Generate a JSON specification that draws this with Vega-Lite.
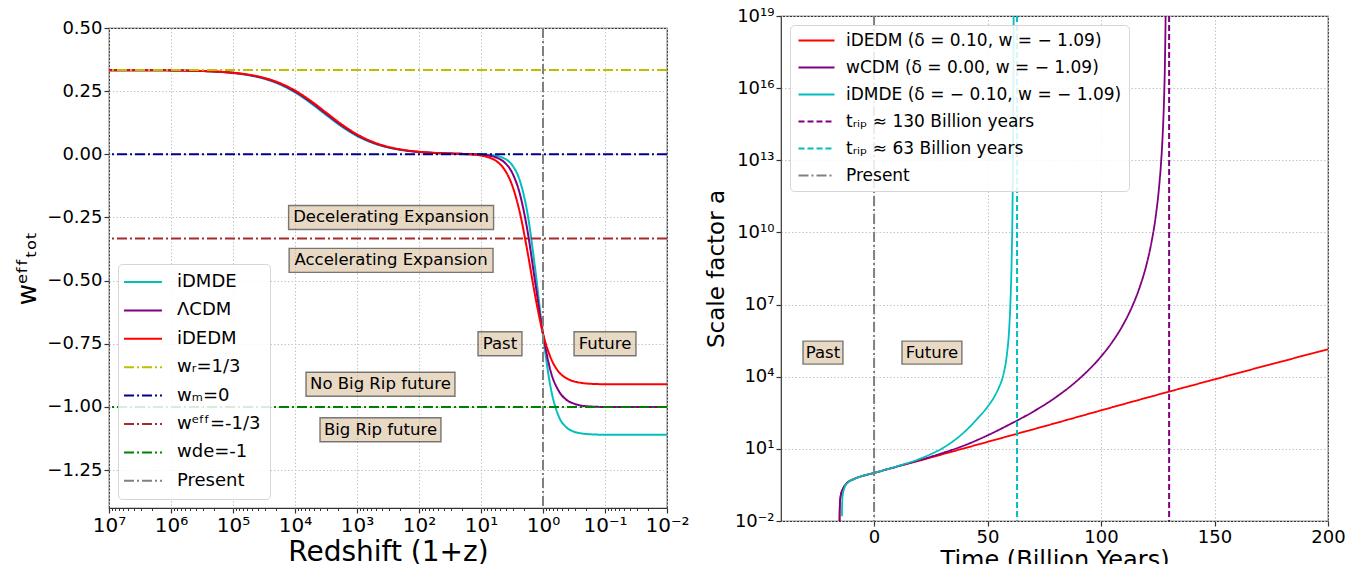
{
  "$schema": "https://vega.github.io/schema/vega-lite/v6.json",
  "background": "white",
  "padding": {"left": 14, "top": 6, "right": 0, "bottom": 0},
  "config": {
    "font": "DejaVu Sans",
    "view": {"stroke": "#333333", "strokeWidth": 1.2},
    "axis": {
      "domain": false, "tickColor": "#333333", "tickSize": 5, "tickWidth": 1.2,
      "labelColor": "#000000", "titleColor": "#000000", "titleFontWeight": "normal",
      "grid": true, "gridColor": "#c4c4c4", "gridDash": [1.5, 2], "gridWidth": 1,
      "labelOverlap": false, "labelBound": false, "labelFlush": false,
      "labelFont": "DejaVu Sans", "titleFont": "DejaVu Sans"
    },
    "legend": {"labelFont": "DejaVu Sans", "labelColor": "#000000", "labelLimit": 600}
  },
  "datasets": {
    "left_curves": [
      {"series": "iDMDE", "z1": 10000000, "w": 0.3332}, {"series": "iDMDE", "z1": 3162278, "w": 0.333}, {"series": "iDMDE", "z1": 1000000, "w": 0.3321}, {"series": "iDMDE", "z1": 316228, "w": 0.3296}, {"series": "iDMDE", "z1": 177828, "w": 0.3267}, {"series": "iDMDE", "z1": 100000, "w": 0.3218}, {"series": "iDMDE", "z1": 56234, "w": 0.3133}, {"series": "iDMDE", "z1": 31623, "w": 0.2993}, {"series": "iDMDE", "z1": 17783, "w": 0.2772}, {"series": "iDMDE", "z1": 10000, "w": 0.2451}, {"series": "iDMDE", "z1": 5623, "w": 0.2033}, {"series": "iDMDE", "z1": 3162, "w": 0.1559}, {"series": "iDMDE", "z1": 1778, "w": 0.1102}, {"series": "iDMDE", "z1": 1000, "w": 0.0725}, {"series": "iDMDE", "z1": 562.3, "w": 0.0451}, {"series": "iDMDE", "z1": 316.2, "w": 0.0269}, {"series": "iDMDE", "z1": 177.8, "w": 0.0157}, {"series": "iDMDE", "z1": 100, "w": 0.009}, {"series": "iDMDE", "z1": 56.23, "w": 0.0051}, {"series": "iDMDE", "z1": 31.62, "w": 0.0029}, {"series": "iDMDE", "z1": 17.78, "w": 0.0015}, {"series": "iDMDE", "z1": 10, "w": 0.0}, {"series": "iDMDE", "z1": 7.499, "w": -0.0018}, {"series": "iDMDE", "z1": 5.623, "w": -0.0059}, {"series": "iDMDE", "z1": 4.217, "w": -0.0161}, {"series": "iDMDE", "z1": 3.162, "w": -0.0417}, {"series": "iDMDE", "z1": 2.371, "w": -0.103}, {"series": "iDMDE", "z1": 1.778, "w": -0.234}, {"series": "iDMDE", "z1": 1.334, "w": -0.456}, {"series": "iDMDE", "z1": 1, "w": -0.716}, {"series": "iDMDE", "z1": 0.7499, "w": -0.925}, {"series": "iDMDE", "z1": 0.5623, "w": -1.035}, {"series": "iDMDE", "z1": 0.4217, "w": -1.08}, {"series": "iDMDE", "z1": 0.3162, "w": -1.098}, {"series": "iDMDE", "z1": 0.2371, "w": -1.105}, {"series": "iDMDE", "z1": 0.1778, "w": -1.108}, {"series": "iDMDE", "z1": 0.1, "w": -1.11}, {"series": "iDMDE", "z1": 0.05623, "w": -1.11}, {"series": "iDMDE", "z1": 0.03162, "w": -1.11}, {"series": "iDMDE", "z1": 0.01, "w": -1.11},
      {"series": "ΛCDM", "z1": 10000000, "w": 0.3332}, {"series": "ΛCDM", "z1": 3162278, "w": 0.333}, {"series": "ΛCDM", "z1": 1000000, "w": 0.3322}, {"series": "ΛCDM", "z1": 316228, "w": 0.3298}, {"series": "ΛCDM", "z1": 177828, "w": 0.3271}, {"series": "ΛCDM", "z1": 100000, "w": 0.3224}, {"series": "ΛCDM", "z1": 56234, "w": 0.3143}, {"series": "ΛCDM", "z1": 31623, "w": 0.301}, {"series": "ΛCDM", "z1": 17783, "w": 0.2798}, {"series": "ΛCDM", "z1": 10000, "w": 0.2488}, {"series": "ΛCDM", "z1": 5623, "w": 0.2077}, {"series": "ΛCDM", "z1": 3162, "w": 0.1606}, {"series": "ΛCDM", "z1": 1778, "w": 0.1145}, {"series": "ΛCDM", "z1": 1000, "w": 0.0757}, {"series": "ΛCDM", "z1": 562.3, "w": 0.0473}, {"series": "ΛCDM", "z1": 316.2, "w": 0.0284}, {"series": "ΛCDM", "z1": 177.8, "w": 0.0166}, {"series": "ΛCDM", "z1": 100, "w": 0.0095}, {"series": "ΛCDM", "z1": 56.23, "w": 0.0054}, {"series": "ΛCDM", "z1": 31.62, "w": 0.0031}, {"series": "ΛCDM", "z1": 17.78, "w": 0.0013}, {"series": "ΛCDM", "z1": 10, "w": -0.0015}, {"series": "ΛCDM", "z1": 7.499, "w": -0.005}, {"series": "ΛCDM", "z1": 5.623, "w": -0.013}, {"series": "ΛCDM", "z1": 4.217, "w": -0.0312}, {"series": "ΛCDM", "z1": 3.162, "w": -0.0716}, {"series": "ΛCDM", "z1": 2.371, "w": -0.155}, {"series": "ΛCDM", "z1": 1.778, "w": -0.303}, {"series": "ΛCDM", "z1": 1.334, "w": -0.508}, {"series": "ΛCDM", "z1": 1, "w": -0.71}, {"series": "ΛCDM", "z1": 0.7499, "w": -0.86}, {"series": "ΛCDM", "z1": 0.5623, "w": -0.935}, {"series": "ΛCDM", "z1": 0.4217, "w": -0.971}, {"series": "ΛCDM", "z1": 0.3162, "w": -0.987}, {"series": "ΛCDM", "z1": 0.2371, "w": -0.995}, {"series": "ΛCDM", "z1": 0.1778, "w": -0.998}, {"series": "ΛCDM", "z1": 0.1, "w": -1.0}, {"series": "ΛCDM", "z1": 0.05623, "w": -1.0}, {"series": "ΛCDM", "z1": 0.03162, "w": -1.0}, {"series": "ΛCDM", "z1": 0.01, "w": -1.0},
      {"series": "iDEDM", "z1": 10000000, "w": 0.3332}, {"series": "iDEDM", "z1": 3162278, "w": 0.333}, {"series": "iDEDM", "z1": 1000000, "w": 0.3323}, {"series": "iDEDM", "z1": 316228, "w": 0.33}, {"series": "iDEDM", "z1": 177828, "w": 0.3274}, {"series": "iDEDM", "z1": 100000, "w": 0.323}, {"series": "iDEDM", "z1": 56234, "w": 0.3154}, {"series": "iDEDM", "z1": 31623, "w": 0.3027}, {"series": "iDEDM", "z1": 17783, "w": 0.2825}, {"series": "iDEDM", "z1": 10000, "w": 0.2525}, {"series": "iDEDM", "z1": 5623, "w": 0.2125}, {"series": "iDEDM", "z1": 3162, "w": 0.1657}, {"series": "iDEDM", "z1": 1778, "w": 0.1191}, {"series": "iDEDM", "z1": 1000, "w": 0.0794}, {"series": "iDEDM", "z1": 562.3, "w": 0.0498}, {"series": "iDEDM", "z1": 316.2, "w": 0.03}, {"series": "iDEDM", "z1": 177.8, "w": 0.0176}, {"series": "iDEDM", "z1": 100, "w": 0.0101}, {"series": "iDEDM", "z1": 56.23, "w": 0.0058}, {"series": "iDEDM", "z1": 31.62, "w": 0.0033}, {"series": "iDEDM", "z1": 17.78, "w": 0.0006}, {"series": "iDEDM", "z1": 10, "w": -0.0049}, {"series": "iDEDM", "z1": 7.499, "w": -0.0122}, {"series": "iDEDM", "z1": 5.623, "w": -0.0274}, {"series": "iDEDM", "z1": 4.217, "w": -0.0589}, {"series": "iDEDM", "z1": 3.162, "w": -0.121}, {"series": "iDEDM", "z1": 2.371, "w": -0.229}, {"series": "iDEDM", "z1": 1.778, "w": -0.386}, {"series": "iDEDM", "z1": 1.334, "w": -0.562}, {"series": "iDEDM", "z1": 1, "w": -0.71}, {"series": "iDEDM", "z1": 0.7499, "w": -0.806}, {"series": "iDEDM", "z1": 0.5623, "w": -0.86}, {"series": "iDEDM", "z1": 0.4217, "w": -0.886}, {"series": "iDEDM", "z1": 0.3162, "w": -0.899}, {"series": "iDEDM", "z1": 0.2371, "w": -0.905}, {"series": "iDEDM", "z1": 0.1778, "w": -0.908}, {"series": "iDEDM", "z1": 0.1, "w": -0.91}, {"series": "iDEDM", "z1": 0.05623, "w": -0.91}, {"series": "iDEDM", "z1": 0.03162, "w": -0.91}, {"series": "iDEDM", "z1": 0.01, "w": -0.91}
    ],
    "left_hlines": [
      {"series": "wᵣ=1/3", "w": 0.3333},
      {"series": "wₘ=0", "w": 0},
      {"series": "wᵉᶠᶠ=-1/3", "w": -0.3333},
      {"series": "wde=-1", "w": -1}
    ],
    "left_present": [{"series": "Present", "z1": 1}],
    "left_annot": [
      {"label": "Decelerating Expansion", "z1": 282, "w": -0.25},
      {"label": "Accelerating Expansion", "z1": 282, "w": -0.42},
      {"label": "Past", "z1": 4.94, "w": -0.75},
      {"label": "Future", "z1": 0.1, "w": -0.75},
      {"label": "No Big Rip future", "z1": 418, "w": -0.91},
      {"label": "Big Rip future", "z1": 418, "w": -1.09}
    ],
    "right_curves": [
      {"model": "iDEDM (δ = 0.10, w = − 1.09)", "t": -15.2, "log_a": -2.0}, {"model": "iDEDM (δ = 0.10, w = − 1.09)", "t": -15.15, "log_a": -1.62}, {"model": "iDEDM (δ = 0.10, w = − 1.09)", "t": -15.0, "log_a": -1.22}, {"model": "iDEDM (δ = 0.10, w = − 1.09)", "t": -14.8, "log_a": -1.02}, {"model": "iDEDM (δ = 0.10, w = − 1.09)", "t": -14.5, "log_a": -0.86}, {"model": "iDEDM (δ = 0.10, w = − 1.09)", "t": -14.0, "log_a": -0.72}, {"model": "iDEDM (δ = 0.10, w = − 1.09)", "t": -13.5, "log_a": -0.62}, {"model": "iDEDM (δ = 0.10, w = − 1.09)", "t": -12.5, "log_a": -0.48}, {"model": "iDEDM (δ = 0.10, w = − 1.09)", "t": -11, "log_a": -0.35}, {"model": "iDEDM (δ = 0.10, w = − 1.09)", "t": -9, "log_a": -0.26}, {"model": "iDEDM (δ = 0.10, w = − 1.09)", "t": -6, "log_a": -0.15}, {"model": "iDEDM (δ = 0.10, w = − 1.09)", "t": -3, "log_a": -0.075}, {"model": "iDEDM (δ = 0.10, w = − 1.09)", "t": 0, "log_a": 0}, {"model": "iDEDM (δ = 0.10, w = − 1.09)", "t": 10, "log_a": 0.26}, {"model": "iDEDM (δ = 0.10, w = − 1.09)", "t": 20, "log_a": 0.51}, {"model": "iDEDM (δ = 0.10, w = − 1.09)", "t": 30, "log_a": 0.77}, {"model": "iDEDM (δ = 0.10, w = − 1.09)", "t": 40, "log_a": 1.03}, {"model": "iDEDM (δ = 0.10, w = − 1.09)", "t": 50, "log_a": 1.29}, {"model": "iDEDM (δ = 0.10, w = − 1.09)", "t": 60, "log_a": 1.55}, {"model": "iDEDM (δ = 0.10, w = − 1.09)", "t": 80, "log_a": 2.07}, {"model": "iDEDM (δ = 0.10, w = − 1.09)", "t": 100, "log_a": 2.6}, {"model": "iDEDM (δ = 0.10, w = − 1.09)", "t": 130, "log_a": 3.38}, {"model": "iDEDM (δ = 0.10, w = − 1.09)", "t": 150, "log_a": 3.89}, {"model": "iDEDM (δ = 0.10, w = − 1.09)", "t": 175, "log_a": 4.52}, {"model": "iDEDM (δ = 0.10, w = − 1.09)", "t": 200, "log_a": 5.14},
      {"model": "wCDM (δ = 0.00, w = − 1.09)", "t": -15.2, "log_a": -2.0}, {"model": "wCDM (δ = 0.00, w = − 1.09)", "t": -15.15, "log_a": -1.62}, {"model": "wCDM (δ = 0.00, w = − 1.09)", "t": -15.0, "log_a": -1.22}, {"model": "wCDM (δ = 0.00, w = − 1.09)", "t": -14.8, "log_a": -1.02}, {"model": "wCDM (δ = 0.00, w = − 1.09)", "t": -14.5, "log_a": -0.86}, {"model": "wCDM (δ = 0.00, w = − 1.09)", "t": -14.0, "log_a": -0.72}, {"model": "wCDM (δ = 0.00, w = − 1.09)", "t": -13.5, "log_a": -0.62}, {"model": "wCDM (δ = 0.00, w = − 1.09)", "t": -12.5, "log_a": -0.48}, {"model": "wCDM (δ = 0.00, w = − 1.09)", "t": -11, "log_a": -0.35}, {"model": "wCDM (δ = 0.00, w = − 1.09)", "t": -9, "log_a": -0.26}, {"model": "wCDM (δ = 0.00, w = − 1.09)", "t": -6, "log_a": -0.15}, {"model": "wCDM (δ = 0.00, w = − 1.09)", "t": -3, "log_a": -0.075}, {"model": "wCDM (δ = 0.00, w = − 1.09)", "t": 0, "log_a": 0}, {"model": "wCDM (δ = 0.00, w = − 1.09)", "t": 10, "log_a": 0.26}, {"model": "wCDM (δ = 0.00, w = − 1.09)", "t": 20, "log_a": 0.53}, {"model": "wCDM (δ = 0.00, w = − 1.09)", "t": 30, "log_a": 0.82}, {"model": "wCDM (δ = 0.00, w = − 1.09)", "t": 40, "log_a": 1.15}, {"model": "wCDM (δ = 0.00, w = − 1.09)", "t": 50, "log_a": 1.56}, {"model": "wCDM (δ = 0.00, w = − 1.09)", "t": 60, "log_a": 2.03}, {"model": "wCDM (δ = 0.00, w = − 1.09)", "t": 70, "log_a": 2.54}, {"model": "wCDM (δ = 0.00, w = − 1.09)", "t": 80, "log_a": 3.14}, {"model": "wCDM (δ = 0.00, w = − 1.09)", "t": 90, "log_a": 3.88}, {"model": "wCDM (δ = 0.00, w = − 1.09)", "t": 100, "log_a": 4.84}, {"model": "wCDM (δ = 0.00, w = − 1.09)", "t": 105, "log_a": 5.45}, {"model": "wCDM (δ = 0.00, w = − 1.09)", "t": 110, "log_a": 6.21}, {"model": "wCDM (δ = 0.00, w = − 1.09)", "t": 114, "log_a": 6.98}, {"model": "wCDM (δ = 0.00, w = − 1.09)", "t": 117, "log_a": 7.71}, {"model": "wCDM (δ = 0.00, w = − 1.09)", "t": 120, "log_a": 8.65}, {"model": "wCDM (δ = 0.00, w = − 1.09)", "t": 122, "log_a": 9.48}, {"model": "wCDM (δ = 0.00, w = − 1.09)", "t": 124, "log_a": 10.6}, {"model": "wCDM (δ = 0.00, w = − 1.09)", "t": 125.5, "log_a": 11.81}, {"model": "wCDM (δ = 0.00, w = − 1.09)", "t": 126.5, "log_a": 12.97}, {"model": "wCDM (δ = 0.00, w = − 1.09)", "t": 127.2, "log_a": 14.14}, {"model": "wCDM (δ = 0.00, w = − 1.09)", "t": 127.8, "log_a": 15.65}, {"model": "wCDM (δ = 0.00, w = − 1.09)", "t": 128.2, "log_a": 17.29}, {"model": "wCDM (δ = 0.00, w = − 1.09)", "t": 128.5, "log_a": 19.52}, {"model": "wCDM (δ = 0.00, w = − 1.09)", "t": 128.6, "log_a": 20.8},
      {"model": "iDMDE (δ = − 0.10, w = − 1.09)", "t": -14.15, "log_a": -1.8}, {"model": "iDMDE (δ = − 0.10, w = − 1.09)", "t": -14.1, "log_a": -1.42}, {"model": "iDMDE (δ = − 0.10, w = − 1.09)", "t": -14.0, "log_a": -1.14}, {"model": "iDMDE (δ = − 0.10, w = − 1.09)", "t": -13.8, "log_a": -0.92}, {"model": "iDMDE (δ = − 0.10, w = − 1.09)", "t": -13.4, "log_a": -0.73}, {"model": "iDMDE (δ = − 0.10, w = − 1.09)", "t": -12.7, "log_a": -0.54}, {"model": "iDMDE (δ = − 0.10, w = − 1.09)", "t": -11.5, "log_a": -0.4}, {"model": "iDMDE (δ = − 0.10, w = − 1.09)", "t": -9, "log_a": -0.26}, {"model": "iDMDE (δ = − 0.10, w = − 1.09)", "t": -6, "log_a": -0.15}, {"model": "iDMDE (δ = − 0.10, w = − 1.09)", "t": -3, "log_a": -0.075}, {"model": "iDMDE (δ = − 0.10, w = − 1.09)", "t": 0, "log_a": 0}, {"model": "iDMDE (δ = − 0.10, w = − 1.09)", "t": 10, "log_a": 0.27}, {"model": "iDMDE (δ = − 0.10, w = − 1.09)", "t": 20, "log_a": 0.58}, {"model": "iDMDE (δ = − 0.10, w = − 1.09)", "t": 25, "log_a": 0.78}, {"model": "iDMDE (δ = − 0.10, w = − 1.09)", "t": 30, "log_a": 1.02}, {"model": "iDMDE (δ = − 0.10, w = − 1.09)", "t": 35, "log_a": 1.33}, {"model": "iDMDE (δ = − 0.10, w = − 1.09)", "t": 40, "log_a": 1.72}, {"model": "iDMDE (δ = − 0.10, w = − 1.09)", "t": 45, "log_a": 2.2}, {"model": "iDMDE (δ = − 0.10, w = − 1.09)", "t": 50, "log_a": 2.75}, {"model": "iDMDE (δ = − 0.10, w = − 1.09)", "t": 53, "log_a": 3.17}, {"model": "iDMDE (δ = − 0.10, w = − 1.09)", "t": 55, "log_a": 3.55}, {"model": "iDMDE (δ = − 0.10, w = − 1.09)", "t": 57, "log_a": 4.1}, {"model": "iDMDE (δ = − 0.10, w = − 1.09)", "t": 58.5, "log_a": 4.9}, {"model": "iDMDE (δ = − 0.10, w = − 1.09)", "t": 59.5, "log_a": 5.95}, {"model": "iDMDE (δ = − 0.10, w = − 1.09)", "t": 60.2, "log_a": 7.4}, {"model": "iDMDE (δ = − 0.10, w = − 1.09)", "t": 60.7, "log_a": 9.2}, {"model": "iDMDE (δ = − 0.10, w = − 1.09)", "t": 61.0, "log_a": 11.0}, {"model": "iDMDE (δ = − 0.10, w = − 1.09)", "t": 61.25, "log_a": 13.5}, {"model": "iDMDE (δ = − 0.10, w = − 1.09)", "t": 61.4, "log_a": 16.5}, {"model": "iDMDE (δ = − 0.10, w = − 1.09)", "t": 61.5, "log_a": 19.5}, {"model": "iDMDE (δ = − 0.10, w = − 1.09)", "t": 61.55, "log_a": 21}
    ],
    "right_vlines": [
      {"model": "tᵣᵢₚ ≈ 130 Billion years", "t": 130},
      {"model": "tᵣᵢₚ ≈ 63 Billion years", "t": 63},
      {"model": "Present", "t": 0}
    ],
    "right_annot": [
      {"label": "Past", "t": -22.5, "log_a": 5},
      {"label": "Future", "t": 25.5, "log_a": 5}
    ]
  },
  "hconcat": [
    {
      "vconcat": [
        {
          "width": 558,
          "height": 2,
          "data": {"values": []},
          "mark": {"type": "point", "opacity": 0},
          "view": {"stroke": null}
        },
        {
          "width": 558,
          "height": 480,
          "layer": [
            {
              "data": {"name": "left_curves"},
              "mark": {"type": "line", "strokeWidth": 2, "interpolate": "monotone"},
              "encoding": {
                "x": {"field": "z1", "type": "quantitative",
                  "scale": {"type": "log", "domain": [0.01, 10000000], "reverse": true, "nice": false},
                  "axis": {"title": "Redshift (1+z)", "titleFontSize": 28, "labelFontSize": 20, "titlePadding": 3,
                    "values": [10000000, 1000000, 100000, 10000, 1000, 100, 10, 1, 0.1, 0.01],
                    "labelExpr": "['10⁻²','10⁻¹','10⁰','10¹','10²','10³','10⁴','10⁵','10⁶','10⁷'][round(log(datum.value)/LN10)+2]"}},
                "y": {"field": "w", "type": "quantitative",
                  "scale": {"domain": [-1.4, 0.5], "nice": false, "zero": false},
                  "axis": {"title": "wᵉᶠᶠₜₒₜ", "titleFontSize": 26, "labelFontSize": 18, "titlePadding": 6,
                    "values": [-1.25, -1, -0.75, -0.5, -0.25, 0, 0.25, 0.5], "format": ".2f"}},
                "color": {"field": "series", "type": "nominal",
                  "scale": {"domain": ["iDMDE", "ΛCDM", "iDEDM", "wᵣ=1/3", "wₘ=0", "wᵉᶠᶠ=-1/3", "wde=-1", "Present"],
                    "range": ["#00bfbf", "#800080", "#ff0000", "#bfbf00", "#00008b", "#a52a2a", "#008000", "#808080"]},
                  "legend": {"title": null, "orient": "bottom-left", "offset": 9, "fillColor": "rgba(255,255,255,0.85)",
                    "strokeColor": "#d6d6d6", "cornerRadius": 4, "padding": 9, "labelFontSize": 18,
                    "symbolType": "M-3,0H3", "symbolSize": 160, "symbolStrokeWidth": 2, "symbolOffset": 7,
                    "labelOffset": 25, "rowPadding": 10.4}},
                "strokeDash": {"field": "series", "type": "nominal",
                  "scale": {"domain": ["iDMDE", "ΛCDM", "iDEDM", "wᵣ=1/3", "wₘ=0", "wᵉᶠᶠ=-1/3", "wde=-1", "Present"],
                    "range": [[1, 0], [1, 0], [1, 0], [10, 3, 2, 3], [10, 3, 2, 3], [10, 3, 2, 3], [10, 3, 2, 3], [10, 3, 2, 3]]}}
              }
            },
            {
              "data": {"name": "left_present"},
              "mark": {"type": "point", "opacity": 0},
              "encoding": {
                "x": {"field": "z1", "type": "quantitative",
                  "axis": {"orient": "bottom", "title": null, "labels": false, "grid": false, "tickSize": 2.5, "tickWidth": 1,
                    "values": [2, 3, 4, 5, 6, 7, 8, 9, 20, 30, 40, 50, 60, 70, 80, 90, 200, 300, 400, 500, 600, 700, 800, 900, 2000, 3000, 4000, 5000, 6000, 7000, 8000, 9000, 20000, 30000, 40000, 50000, 60000, 70000, 80000, 90000, 200000, 300000, 400000, 500000, 600000, 700000, 800000, 900000, 2000000, 3000000, 4000000, 5000000, 6000000, 7000000, 8000000, 9000000, 0.2, 0.3, 0.4, 0.5, 0.6, 0.7, 0.8, 0.9, 0.02, 0.03, 0.04, 0.05, 0.06, 0.07, 0.08, 0.09]}}
              }
            },
            {
              "data": {"name": "left_hlines"},
              "mark": {"type": "rule", "strokeWidth": 2},
              "encoding": {
                "y": {"field": "w", "type": "quantitative"},
                "color": {"field": "series", "type": "nominal"},
                "strokeDash": {"field": "series", "type": "nominal"}
              }
            },
            {
              "data": {"name": "left_present"},
              "mark": {"type": "rule", "strokeWidth": 2},
              "encoding": {
                "x": {"field": "z1", "type": "quantitative", "axis": null},
                "color": {"field": "series", "type": "nominal"},
                "strokeDash": {"field": "series", "type": "nominal"}
              }
            },
            {
              "data": {"name": "left_annot"},
              "mark": {"type": "point", "filled": true, "fill": "#d2b48c", "fillOpacity": 0.5, "opacity": 1,
                "stroke": "#000000", "strokeOpacity": 0.5, "strokeWidth": 1.4, "size": 10000},
              "encoding": {
                "x": {"field": "z1", "type": "quantitative", "axis": null},
                "y": {"field": "w", "type": "quantitative"},
                "shape": {"field": "label", "type": "nominal", "legend": null,
                  "scale": {"domain": ["Decelerating Expansion", "Accelerating Expansion", "Past", "Future", "No Big Rip future", "Big Rip future"],
                    "range": ["M-2.05,-0.24H2.05V0.24H-2.05Z", "M-2.04,-0.24H2.04V0.24H-2.04Z", "M-0.44,-0.24H0.44V0.24H-0.44Z", "M-0.62,-0.24H0.62V0.24H-0.62Z", "M-1.49,-0.24H1.49V0.24H-1.49Z", "M-1.21,-0.24H1.21V0.24H-1.21Z"]}}
              }
            },
            {
              "data": {"name": "left_annot"},
              "mark": {"type": "text", "fontSize": 16.5, "align": "center", "baseline": "middle", "color": "#000000"},
              "encoding": {
                "x": {"field": "z1", "type": "quantitative", "axis": null},
                "y": {"field": "w", "type": "quantitative"},
                "text": {"field": "label", "type": "nominal"}
              }
            }
          ],
          "resolve": {"axis": {"x": "independent"}}
        }
      ],
      "spacing": 0,
      "resolve": {"scale": {"color": "independent", "strokeDash": "independent", "shape": "independent", "x": "independent", "y": "independent"}, "legend": {"color": "independent", "strokeDash": "independent"}}
    },
    {
      "width": 547,
      "height": 505,
      "layer": [
        {
          "data": {"name": "right_curves"},
          "mark": {"type": "line", "strokeWidth": 1.8, "interpolate": "monotone", "clip": true},
          "encoding": {
            "x": {"field": "t", "type": "quantitative",
              "scale": {"domain": [-41, 200], "nice": false, "zero": false},
              "axis": {"title": "Time (Billion Years)", "titleFontSize": 24, "labelFontSize": 18, "titlePadding": 2,
                "values": [0, 50, 100, 150, 200]}},
            "y": {"field": "log_a", "type": "quantitative",
              "scale": {"domain": [-2, 19], "nice": false, "zero": false},
              "axis": {"title": "Scale factor a", "titleFontSize": 23, "labelFontSize": 18, "titlePadding": 6,
                "values": [-2, 1, 4, 7, 10, 13, 16, 19],
                "labelExpr": "['10⁻²','10¹','10⁴','10⁷','10¹⁰','10¹³','10¹⁶','10¹⁹'][round((datum.value+2)/3)]"}},
            "color": {"field": "model", "type": "nominal",
              "scale": {"domain": ["iDEDM (δ = 0.10, w = − 1.09)", "wCDM (δ = 0.00, w = − 1.09)", "iDMDE (δ = − 0.10, w = − 1.09)", "tᵣᵢₚ ≈ 130 Billion years", "tᵣᵢₚ ≈ 63 Billion years", "Present"],
                "range": ["#ff0000", "#800080", "#00bfbf", "#800080", "#00bfbf", "#808080"]},
              "legend": {"title": null, "orient": "top-left", "offset": 9, "fillColor": "rgba(255,255,255,0.85)",
                "strokeColor": "#d6d6d6", "cornerRadius": 4, "padding": 7, "labelFontSize": 17, "labelLimit": 600,
                "symbolType": "M-3,0H3", "symbolSize": 144, "symbolStrokeWidth": 2, "symbolOffset": 11,
                "labelOffset": 21, "rowPadding": 9}},
            "strokeDash": {"field": "model", "type": "nominal",
              "scale": {"domain": ["iDEDM (δ = 0.10, w = − 1.09)", "wCDM (δ = 0.00, w = − 1.09)", "iDMDE (δ = − 0.10, w = − 1.09)", "tᵣᵢₚ ≈ 130 Billion years", "tᵣᵢₚ ≈ 63 Billion years", "Present"],
                "range": [[1, 0], [1, 0], [1, 0], [6, 3], [6, 3], [10, 3, 2, 3]]}}
          }
        },
        {
          "data": {"name": "right_vlines"},
          "mark": {"type": "rule", "strokeWidth": 2},
          "encoding": {
            "x": {"field": "t", "type": "quantitative"},
            "color": {"field": "model", "type": "nominal"},
            "strokeDash": {"field": "model", "type": "nominal"}
          }
        },
        {
          "data": {"name": "right_annot"},
          "mark": {"type": "point", "filled": true, "fill": "#d2b48c", "fillOpacity": 0.5, "opacity": 1,
            "stroke": "#000000", "strokeOpacity": 0.5, "strokeWidth": 1.4, "size": 10000},
          "encoding": {
            "x": {"field": "t", "type": "quantitative"},
            "y": {"field": "log_a", "type": "quantitative"},
            "shape": {"field": "label", "type": "nominal", "legend": null,
              "scale": {"domain": ["Past", "Future"],
                "range": ["M-0.40,-0.23H0.40V0.23H-0.40Z", "M-0.60,-0.23H0.60V0.23H-0.60Z"]}}
          }
        },
        {
          "data": {"name": "right_annot"},
          "mark": {"type": "text", "fontSize": 16.5, "align": "center", "baseline": "middle", "color": "#000000"},
          "encoding": {
            "x": {"field": "t", "type": "quantitative"},
            "y": {"field": "log_a", "type": "quantitative"},
            "text": {"field": "label", "type": "nominal"}
          }
        }
      ]
    }
  ],
  "spacing": 14,
  "resolve": {"scale": {"color": "independent", "strokeDash": "independent", "shape": "independent", "x": "independent", "y": "independent"}, "legend": {"color": "independent", "strokeDash": "independent"}}
}
